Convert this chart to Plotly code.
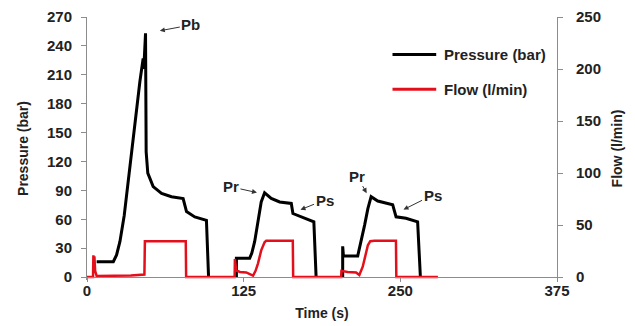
import plotly.graph_objects as go

# ---- data ----
pressure_time = [7.7, 21, 23.6, 26.3, 29.7, 34.2, 38.2, 42.2, 44.8, 45.3, 46.7, 47.2, 48.5, 52.8, 59.5, 67.4, 76.7, 78.0, 79.4, 86, 95.3, 97.0,
                 None,
                 119.2, 119.2, 129.8, 131.5, 133.8, 136.4, 139, 141.7, 147, 153.7, 163, 164.3, 171, 181, 182.8,
                 None,
                 204, 204, 204.6, 216, 218.8, 221.5, 224.1, 226.7, 232, 243.9, 246.6, 254.5, 263.8, 266]
pressure_bar = [16, 16, 23, 37, 64, 116, 161, 203, 227, 216, 253, 130, 108, 94, 87, 83.5, 81.5, 75, 68, 62.5, 59, 0,
                None,
                0, 19.5, 19.5, 25, 37, 59, 78, 87.5, 81.7, 78, 76.5, 66, 62.6, 57.4, 0,
                None,
                0, 32, 22, 22, 37, 54, 71, 83.5, 79, 75, 62.6, 61, 57.4, 0]

flow_time = [0, 4.8, 5.1, 5.5, 5.9, 6.5, 7.7, 20, 35, 45.8, 46.2, 78.8, 79.1,
             117.8, 118.0, 119, 122, 127, 130, 132.5, 134.5, 136.4, 139, 141.7, 143, 164.2, 164.5,
             202.8, 203, 208, 214.7, 217.3, 220, 221.5, 224.1, 226, 229.4, 246.5, 246.8, 280]
flow_lpm = [0, 0, 21, 12, 20, 6, 1, 1, 1.5, 2.5, 34.5, 34.5, 0,
            0, 17.5, 6.5, 5, 4.5, 3, 1.5, 6, 13, 25.7, 33.5, 35, 35, 0,
            0, 6, 5, 4.5, 2, 10, 17.7, 30.6, 34.5, 35, 35, 0, 0]

x_ticks = [0, 125, 250, 375]
p_ticks = [0, 30, 60, 90, 120, 150, 180, 210, 240, 270]
f_ticks = [0, 50, 100, 150, 200, 250]

labels = [  # (text, time, pressure at arrow head, ax, ay)
    ("Pb", 57.3, 255.5, 32, -6),
    ("Pr", 136.4, 87.5, -27, -6),
    ("Ps", 169.6, 69.6, 25, -10),
    ("Pr", 223.5, 86.2, -10, -18),
    ("Ps", 251.8, 69.6, 30, -15),
]

FONT = "Liberation Sans, Arial, sans-serif"
TXT = "#222222"
AX = "#8c8c8c"
PAD = 3  # bar below zero so the zero line is not clipped
P_MAX, F_MAX = 270, 250

fig = go.Figure()
fig.add_trace(go.Scatter(x=pressure_time, y=pressure_bar, mode="lines", name="Pressure (bar)",
                         line=dict(color="#000000", width=3), showlegend=False, connectgaps=False))
fig.add_trace(go.Scatter(x=flow_time, y=flow_lpm, mode="lines", name="Flow (l/min)", yaxis="y2",
                         line=dict(color="#e3101c", width=2.5), showlegend=False))

tickfont = dict(family=FONT, size=15, color=TXT, weight="bold")
titlefont = dict(family=FONT, size=14, color=TXT, weight="bold")

fig.update_layout(
    width=635, height=326,
    margin=dict(l=87, r=78, t=17, b=46),
    paper_bgcolor="white", plot_bgcolor="white",
    xaxis=dict(range=[0, 375], tickvals=x_ticks, showgrid=False, zeroline=False, automargin=False,
               showline=True, linecolor=AX, linewidth=1, ticks="outside", ticklen=4, tickcolor=AX,
               tickfont=tickfont, ticklabelstandoff=-4, anchor="free", position=PAD / (P_MAX + PAD),
               title=dict(text="Time (s)", font=titlefont, standoff=10)),
    yaxis=dict(range=[-PAD, P_MAX], tickvals=p_ticks, showgrid=False, zeroline=False, automargin=False,
               showline=True, linecolor=AX, linewidth=1, ticks="outside", ticklen=5, tickcolor=AX,
               tickfont=tickfont, ticklabelstandoff=6,
               title=dict(text="Pressure (bar)", font=titlefont, standoff=15)),
    yaxis2=dict(range=[-PAD * F_MAX / P_MAX, F_MAX], tickvals=f_ticks, overlaying="y", side="right",
                showgrid=False, zeroline=False, showline=True, linecolor=AX, linewidth=1, automargin=False,
                ticks="outside", ticklen=5, tickcolor=AX, tickfont=tickfont, ticklabelstandoff=10,
                title=dict(text="Flow (l/min)", font=titlefont, standoff=12)),
)

for text, t, p, ax, ay in labels:
    fig.add_annotation(x=t, y=p, xref="x", yref="y", text=text, showarrow=True,
                       ax=ax, ay=ay, arrowhead=2, arrowsize=1, arrowwidth=1, arrowcolor="#333333",
                       font=dict(family=FONT, size=15, color=TXT, weight="bold"), standoff=1)

# manual legend (line samples + labels)
legend_items = [("Pressure (bar)", "#000000", 0.857), ("Flow (l/min)", "#e3101c", 0.725)]
for name, color, yy in legend_items:
    fig.add_shape(type="line", xref="paper", yref="paper", x0=0.650, x1=0.743, y0=yy, y1=yy,
                  line=dict(color=color, width=3))
    fig.add_annotation(xref="paper", yref="paper", x=0.756, y=yy, xanchor="left", yanchor="middle",
                       text=name, showarrow=False, font=dict(family=FONT, size=15, color=TXT, weight="bold"))

fig.write_html("out.html")
